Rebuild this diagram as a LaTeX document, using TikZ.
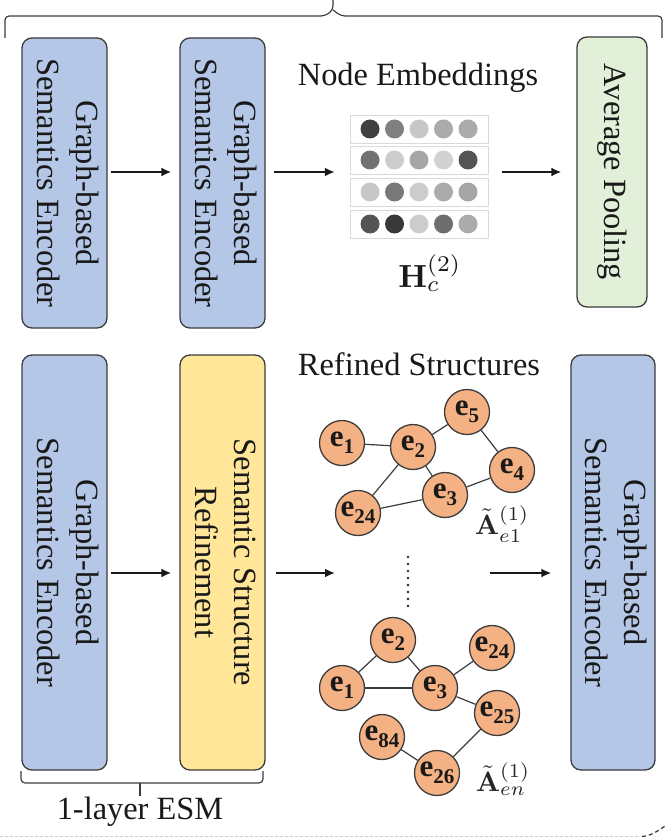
\documentclass[tikz,border=0pt]{standalone}
\usepackage[no-math]{fontspec}
\setmainfont{Liberation Serif}
\usetikzlibrary{arrows.meta}
\definecolor{boxblue}{RGB}{180,199,231}
\definecolor{boxyellow}{RGB}{255,230,153}
\definecolor{boxgreen}{RGB}{226,240,217}
\definecolor{nodeorange}{RGB}{244,177,131}
\definecolor{edgegray}{RGB}{60,60,60}
\definecolor{txt}{RGB}{25,25,25}
\newcommand{\entlab}[1]{e\raisebox{-0.22em}{\fontsize{21}{21}\selectfont #1}}
\newcommand{\vtext}[1]{\rotatebox{-90}{\begin{tabular}{@{}c@{}}#1\end{tabular}}}
\begin{document}
\begin{tikzpicture}[x=1pt,y=-1pt,
  module/.style={draw=edgegray, line width=1.3pt, rounded corners=10pt, minimum width=85pt, inner sep=0pt, text=txt, font=\fontsize{32.4}{39}\selectfont},
  flow/.style={-{Latex[length=10pt,width=9pt]}, line width=2.2pt, black!90},
  ent/.style={circle, draw=edgegray, line width=1.3pt, fill=nodeorange, minimum size=45pt, inner sep=0pt, font=\fontsize{31}{31}\selectfont\bfseries, text=txt},
  link/.style={edgegray, line width=1.2pt},
  erow/.style={draw=black!15, line width=0.8pt, minimum width=138pt, minimum height=28pt, inner sep=0pt},
  dot/.style={circle, minimum size=19pt, inner sep=0pt},
  lbl/.style={text=txt, font=\fontsize{32.4}{39}\selectfont},
  brace/.style={edgegray, line width=1.2pt, rounded corners=4pt},
]
\useasboundingbox (0,0) rectangle (667,837);

% top brace
\coordinate (tbl) at (5,38);
\coordinate (tbr) at (662,38);
\coordinate (tbt) at (333,0);
\draw[brace] (tbl) -- (5,16) -- (325,16) -- (333,10) -- (tbt);
\draw[brace] (tbr) -- (662,16) -- (341,16) -- (333,10);

% top row
\node[module, fill=boxblue, minimum height=290pt] (g1) at (64.5,183) {\vtext{Graph-based\\Semantics Encoder}};
\node[module, fill=boxblue, minimum height=290pt] (g2) at (222.5,183) {\vtext{Graph-based\\Semantics Encoder}};
\node[module, fill=boxgreen, minimum width=70pt, minimum height=270pt] (ap) at (612,172) {\vtext{Average Pooling}};

\node[lbl] (nelab) at (418,78) {Node Embeddings};

% embedding matrix
\node[minimum width=138pt, minimum height=123pt, inner sep=0pt] (emb) at (419,176.5) {};
\foreach \r/\y in {1/129,2/160,3/192,4/224} {
  \node[erow] (row\r) at (419,\y) {};
}
\foreach \r/\y/\ca/\cb/\cc/\cd/\ce in {1/129/75/50/22/33/33, 2/160/55/20/35/18/67, 3/192/22/53/20/33/35, 4/224/67/78/20/57/33} {
  \node[dot, fill=black!\ca] (d\r a) at (370,\y) {};
  \node[dot, fill=black!\cb] (d\r b) at (394.5,\y) {};
  \node[dot, fill=black!\cc] (d\r c) at (419,\y) {};
  \node[dot, fill=black!\cd] (d\r d) at (443.5,\y) {};
  \node[dot, fill=black!\ce] (d\r e) at (468,\y) {};
}
\node[text=txt, inner sep=0pt] (hc) at (430,273) {\scalebox{3.2}{$\mathbf{H}_c^{(2)}$}};

\draw[flow, shorten <=3pt, shorten >=8pt] ([yshift=11pt]g1.east) -- ([yshift=11pt]g2.west);
\draw[flow, shorten <=8pt, shorten >=15pt] ([yshift=11pt]g2.east) -- ([yshift=11pt]g2.east -| emb.west);
\draw[flow, shorten <=14pt, shorten >=15pt] (emb.east |- ap.west) -- (ap.west);

% bottom row
\node[module, fill=boxblue, minimum height=415pt] (g3) at (64.5,562.5) {\vtext{Graph-based\\Semantics Encoder}};
\node[module, fill=boxyellow, minimum height=415pt] (ssr) at (222.5,562.5) {\vtext{Semantic Structure\\Refinement}};
\node[module, fill=boxblue, minimum width=84pt, minimum height=415pt] (g4) at (613,562.5) {\vtext{Graph-based\\Semantics Encoder}};

\node[lbl] (rslab) at (419,364) {Refined Structures};

% graph 1
\node[ent] (e1) at (342,443) {\entlab{1}};
\node[ent] (e2) at (413,447) {\entlab{2}};
\node[ent] (e5) at (467,412) {\entlab{5}};
\node[ent] (e4) at (512,470) {\entlab{4}};
\node[ent] (e3) at (445,495) {\entlab{3}};
\node[ent] (e24) at (358,513) {\entlab{24}};
\draw[link] (e1) -- (e2);
\draw[link] (e2) -- (e5);
\draw[link] (e5) -- (e4);
\draw[link] (e2) -- (e24);
\draw[link] (e2) -- (e3);
\draw[link] (e24) -- (e3);
\draw[link] (e3) -- (e4);
\node[text=black!85, inner sep=0pt] (a1) at (502,524) {\scalebox{2.8}{$\tilde{\mathbf{A}}_{e1}^{(1)}$}};

% dots
\coordinate (dtop) at (408,557);
\coordinate (dbot) at (408,610);
\draw[black!85, line width=2.6pt, line cap=round, dash pattern=on 0pt off 7pt] (dtop) -- (dbot);

% graph 2
\node[ent] (f2) at (393,640) {\entlab{2}};
\node[ent] (f1) at (342,688) {\entlab{1}};
\node[ent] (f3) at (435,688) {\entlab{3}};
\node[ent] (f24) at (492,648) {\entlab{24}};
\node[ent] (f25) at (497,713) {\entlab{25}};
\node[ent] (f84) at (382,737) {\entlab{84}};
\node[ent] (f26) at (437,773) {\entlab{26}};
\draw[link] (f2) -- (f1);
\draw[link] (f2) -- (f3);
\draw[link] (f1) -- (f3);
\draw[link] (f3) -- (f24);
\draw[link] (f3) -- (f25);
\draw[link] (f25) -- (f26);
\draw[link] (f84) -- (f26);
\node[text=black!85, inner sep=0pt] (a2) at (503,779) {\scalebox{2.8}{$\tilde{\mathbf{A}}_{en}^{(1)}$}};

\coordinate (gin) at (335,573);
\coordinate (gout) at (490,573);
\draw[flow, shorten <=3pt, shorten >=8pt] ([yshift=-10.5pt]g3.east) -- ([yshift=-10.5pt]ssr.west);
\draw[flow, shorten <=10pt] ([yshift=-10.5pt]ssr.east) -- (gin);
\draw[flow, shorten >=19pt] (gout) -- (gout -| g4.west);

% bottom brace
\coordinate (bbl) at (21,771);
\coordinate (bbr) at (263,771);
\draw[brace] (bbl) -- (21,783) -- (263,783) -- (bbr);
\draw[edgegray, line width=1.2pt] (140,783) -- (140,796);
\node[lbl] (esm) at (140,812) {1-layer ESM};

% partial outer frame
\draw[black!20, line width=0.6pt, dash pattern=on 3pt off 2pt] (0,836) -- (640,836);
\draw[black!80, line width=1.2pt, dash pattern=on 4pt off 3pt] (642,836.5) to[out=5,in=-150] (667,825);
\end{tikzpicture}
\end{document}
